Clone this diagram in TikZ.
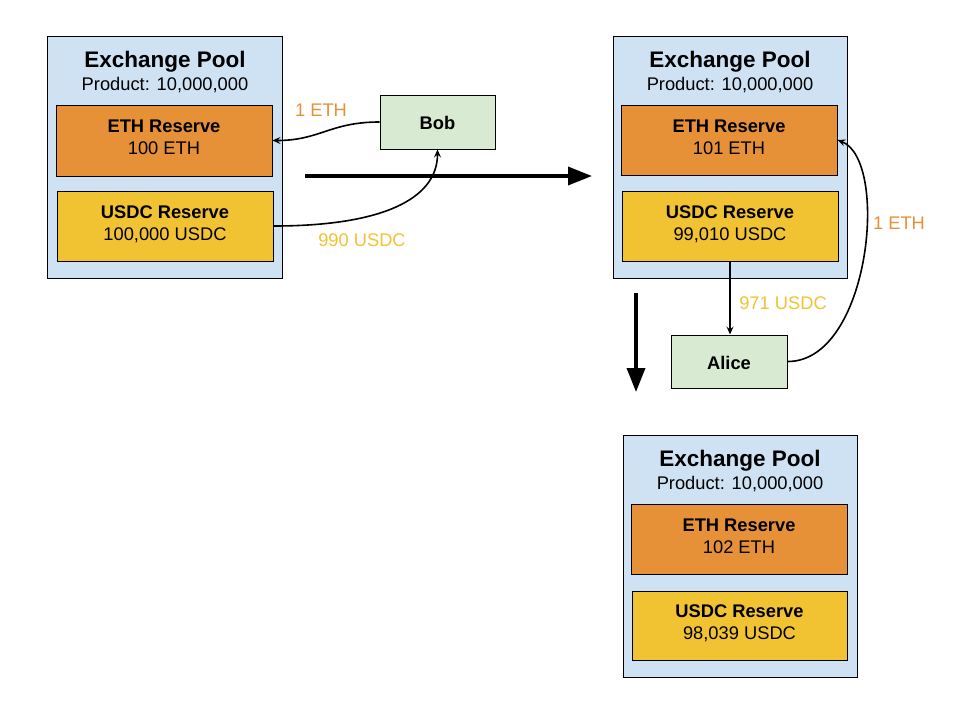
\documentclass[tikz,border=0pt]{standalone}
\usepackage{fontspec}
\setmainfont{Liberation Sans}
\usetikzlibrary{arrows.meta}
\definecolor{poolblue}{HTML}{CFE2F3}
\definecolor{ethorange}{HTML}{E69138}
\definecolor{usdcyellow}{HTML}{F1C232}
\definecolor{persongreen}{HTML}{D9EAD3}
\tikzset{
  pool/.style={draw=black, fill=poolblue, line width=1pt, inner sep=0pt, minimum width=235pt, minimum height=242pt},
  ethbox/.style={draw=black, fill=ethorange, line width=1pt, inner sep=0pt, minimum width=216pt, minimum height=70pt},
  usdcbox/.style={draw=black, fill=usdcyellow, line width=1pt, inner sep=0pt, minimum width=216pt, minimum height=70pt},
  person/.style={draw=black, fill=persongreen, line width=1pt, inner sep=0pt, minimum width=115pt, minimum height=54pt},
  ttl/.style={font=\fontsize{22.5}{26}\selectfont\bfseries, anchor=base, inner sep=0pt},
  bld/.style={font=\fontsize{18.3}{21}\selectfont\bfseries, anchor=base, inner sep=0pt},
  reg/.style={font=\fontsize{18.3}{21}\selectfont, anchor=base, inner sep=0pt},
  ethlbl/.style={reg, text=ethorange},
  usdclbl/.style={reg, text=usdcyellow},
  flow/.style={line width=1.6pt, -{Stealth[length=8pt,width=7pt,inset=3pt]}},
  bigarrow/.style={line width=3.5pt, -{Triangle[length=24pt,width=18pt]}},
}
\begin{document}
\begin{tikzpicture}[x=1pt,y=-1pt]
\useasboundingbox (0,0) rectangle (960,720);
% Pool 1
\node[pool] (p1) at (164.5,157) {};
\node[ttl] (p1t) at (165,67) {Exchange Pool};
\node[reg] (p1p) at (165,90) {Product: 10,000,000};
\node[ethbox, minimum height=71pt] (eth1) at (164,140.5) {};
\node[bld] (eth1t) at (164,132) {ETH Reserve};
\node[reg] (eth1v) at (164,154) {100 ETH};
\node[usdcbox] (usdc1) at (165,226) {};
\node[bld] (usdc1t) at (165,218) {USDC Reserve};
\node[reg] (usdc1v) at (165,240) {100,000 USDC};
% Bob
\node[person] (bob) at (437.5,122) {};
\node[bld] (bobt) at (437.5,129) {Bob};
% Pool 2
\node[pool, minimum width=234pt] (p2) at (730,157) {};
\node[ttl] (p2t) at (730,67) {Exchange Pool};
\node[reg] (p2p) at (730,90) {Product: 10,000,000};
\node[ethbox] (eth2) at (729,140) {};
\node[bld] (eth2t) at (729,132) {ETH Reserve};
\node[reg] (eth2v) at (729,154) {101 ETH};
\node[usdcbox] (usdc2) at (730,226) {};
\node[bld] (usdc2t) at (730,218) {USDC Reserve};
\node[reg] (usdc2v) at (730,240) {99,010 USDC};
% Alice
\node[person, minimum width=116pt, minimum height=53pt] (alice) at (729,361.5) {};
\node[bld] (alicet) at (729,369) {Alice};
% Pool 3
\node[pool, minimum width=234pt] (p3) at (740,556) {};
\node[ttl] (p3t) at (740,466) {Exchange Pool};
\node[reg] (p3p) at (740,489) {Product: 10,000,000};
\node[ethbox] (eth3) at (739,539) {};
\node[bld] (eth3t) at (739,531) {ETH Reserve};
\node[reg] (eth3v) at (739,553) {102 ETH};
\node[usdcbox, minimum width=215pt, minimum height=69pt] (usdc3) at (739.5,625.5) {};
\node[bld] (usdc3t) at (739.5,617) {USDC Reserve};
\node[reg] (usdc3v) at (739.5,639) {98,039 USDC};
% flow labels
\node[ethlbl] (l1) at (321,116) {1 ETH};
\node[usdclbl] (l2) at (362,246.5) {990 USDC};
\node[usdclbl] (l3) at (783,309) {971 USDC};
\node[ethlbl] (l4) at (899,229) {1 ETH};
% flows
\draw[flow] (bob.west) .. controls (330,122) and (320,140.5) .. (eth1.east);
\draw[flow] (usdc1.east) .. controls (380,226) and (437.5,200) .. (bob.south);
\draw[flow] (usdc2.south) -- (usdc2.south |- alice.north);
\draw[flow] (alice.east) .. controls (870,362) and (890,160) .. (eth2.east);
% step arrows
\coordinate (s1a) at (305,176);
\coordinate (s1b) at (592,176);
\draw[bigarrow] (s1a) -- (s1b);
\coordinate (s2a) at (636,293);
\coordinate (s2b) at (636,392);
\draw[bigarrow] (s2a) -- (s2b);
\end{tikzpicture}
\end{document}
